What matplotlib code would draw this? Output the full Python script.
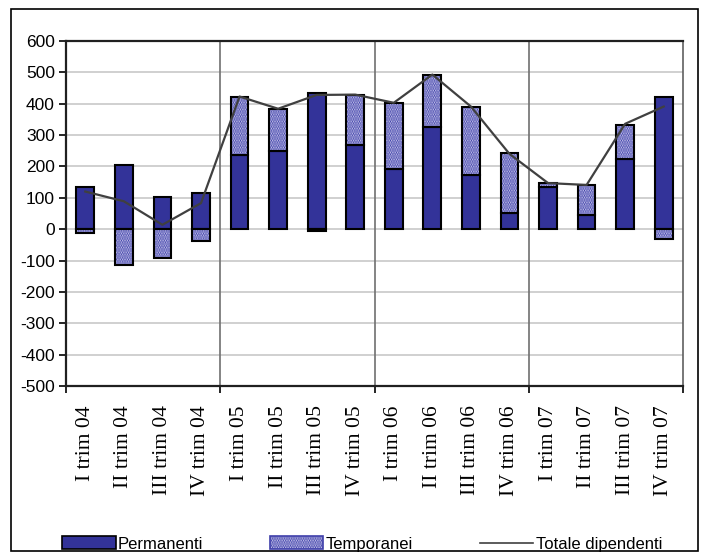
import matplotlib
matplotlib.use("Agg")
import matplotlib.pyplot as plt
import numpy as np
from matplotlib.patches import Patch, Rectangle
from matplotlib.lines import Line2D

categories = ["I trim 04", "II trim 04", "III trim 04", "IV trim 04",
              "I trim 05", "II trim 05", "III trim 05", "IV trim 05",
              "I trim 06", "II trim 06", "III trim 06", "IV trim 06",
              "I trim 07", "II trim 07", "III trim 07", "IV trim 07"]
permanenti = [135, 205, 104, 115, 235, 248, 435, 267, 191, 325, 173, 51, 133, 45, 224, 423]
temporanei = [-11, -115, -91, -38, 188, 136, -6, 162, 212, 168, 218, 192, 14, 96, 109, -32]
totale = [120, 89, 14, 83, 423, 384, 428, 429, 403, 493, 391, 240, 147, 141, 336, 391]
yticks = [-500, -400, -300, -200, -100, 0, 100, 200, 300, 400, 500, 600]

plt.rcParams['hatch.linewidth'] = 1.4
fig = plt.figure(figsize=(7.1, 5.6), dpi=100)
ax = fig.add_axes([66/710, 1-386/560, (683-66)/710, (386-41)/560])

x = np.arange(len(categories))
perm = np.array(permanenti, float)
temp = np.array(temporanei, float)
tbottom = np.where(temp >= 0, np.maximum(perm, 0), 0)
w = 0.46
blue = '#333399'
hatch_face = '#d4d4f0'
hatch_col = '#4040aa'

ax.bar(x, perm, width=w, color=blue, edgecolor='black', linewidth=1.5, zorder=3)
ax.bar(x, temp, width=w, bottom=tbottom, color=hatch_face, edgecolor=hatch_col,
       hatch='.......', linewidth=0, zorder=3)
ax.bar(x, temp, width=w, bottom=tbottom, fill=False, edgecolor='black', linewidth=1.5, zorder=4)
ax.plot(x, totale, color='#404040', linewidth=1.6, zorder=5)

ax.set_xlim(-0.5, len(categories) - 0.5)
ax.set_ylim(-500, 600)
ax.set_yticks(yticks)
ax.set_yticklabels([str(v) for v in yticks], fontsize=12.5, family='Liberation Sans')
ax.yaxis.grid(True, color='#c8c8c8', linewidth=1.2, zorder=0)
ax.set_axisbelow(True)
for b in [3.5, 7.5, 11.5]:
    ax.axvline(b, color='#707070', linewidth=1.2, zorder=2)

ax.set_xticks(x)
ax.set_xticklabels(categories, rotation=90, family='Liberation Serif', fontsize=15.5)
ax.tick_params(axis='x', length=0, pad=14)
ax.set_xticks([-0.5, 3.5, 7.5, 11.5, 15.5], minor=True)
ax.tick_params(axis='x', which='minor', length=5, width=1.2)
ax.tick_params(axis='y', length=5, width=1.2, direction='out', pad=3)
for s in ax.spines.values():
    s.set_linewidth(1.6)
    s.set_color('#202020')
ax.spines['right'].set_color('#606060')
ax.spines['right'].set_linewidth(1.2)

# outer border
fig.patches.append(Rectangle((11/710, 1-551/560), 687/710, 542/560, transform=fig.transFigure,
                             fill=False, edgecolor='black', linewidth=1.2))

handles = [Patch(facecolor=blue, edgecolor='black', linewidth=1.2),
           Patch(facecolor=hatch_face, edgecolor=hatch_col, hatch='.......', linewidth=1.2),
           Line2D([0], [0], color='#404040', linewidth=1.2)]
leg = fig.legend(handles, ['Permanenti', 'Temporanei', 'Totale dipendenti'],
                 loc='center', bbox_to_anchor=(0.51, 1-544/560), ncol=3, frameon=False,
                 prop={'family': 'Liberation Sans', 'size': 12}, handlelength=3.2,
                 handleheight=0.8, handletextpad=0.15, columnspacing=4.0)
for p in leg.get_patches():
    p.set_edgecolor('black')
leg.get_patches()[1].set_edgecolor(hatch_col)

fig.savefig('out.png', dpi=100)
